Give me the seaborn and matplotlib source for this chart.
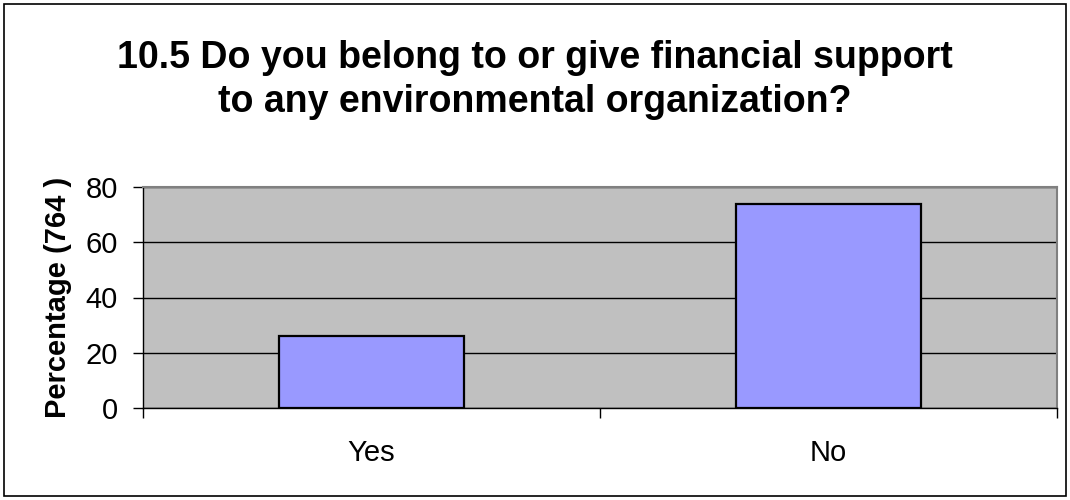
import matplotlib
matplotlib.use("Agg")
import matplotlib.pyplot as plt
import seaborn as sns
import pandas as pd
from matplotlib.patches import Rectangle

categories = ["Yes", "No"]
percentages = [26, 74]
y_ticks = [0, 20, 40, 60, 80]
title_text = "10.5 Do you belong to or give financial support\nto any environmental organization?"
y_label = "Percentage (764 )"

sns.set_theme(style="white")
plt.rcParams["font.family"] = ["Liberation Sans", "DejaVu Sans"]
plt.rcParams["text.color"] = "black"
plt.rcParams["axes.labelcolor"] = "black"
plt.rcParams["xtick.color"] = "black"
plt.rcParams["ytick.color"] = "black"

df = pd.DataFrame({"answer": categories, "pct": percentages})

fig = plt.figure(figsize=(10.7, 5.0), dpi=100)
ax = fig.add_axes([143 / 1070, 92 / 500, 914 / 1070, 221 / 500])

sns.barplot(data=df, x="answer", y="pct", order=categories, color="#9999FF",
            saturation=1, width=0.405, edgecolor="black", linewidth=1.6,
            ax=ax, zorder=3)

ax.set_facecolor("#C0C0C0")
ax.set_ylim(0, 80)
ax.set_xlim(-0.5, 1.5)
ax.set_yticks(y_ticks)
ax.yaxis.grid(True, color="black", linewidth=1.0, zorder=1)
ax.set_axisbelow(True)

for side in ("top", "right"):
    ax.spines[side].set_color("#808080")
    ax.spines[side].set_linewidth(1.5)
for side in ("left", "bottom"):
    ax.spines[side].set_color("black")
    ax.spines[side].set_linewidth(1.0)

ax.tick_params(axis="y", which="major", direction="out", length=7, width=1,
               color="black", labelsize=21, pad=11, left=True)
ax.tick_params(axis="x", which="major", length=0, labelsize=21, pad=22)
ax.set_xticks([-0.5, 0.5, 1.5], minor=True)
ax.tick_params(axis="x", which="minor", direction="out", length=7, width=1,
               color="black", bottom=True)

ax.set_xlabel("")
ax.set_ylabel(y_label, fontsize=21, fontweight="bold", labelpad=10)

fig.text(0.5, 0.84, title_text, ha="center", va="center", fontsize=27,
         fontweight="bold", linespacing=1.3)

fig.patches.append(Rectangle((4 / 1070, 4 / 500), 1062 / 1070, 492 / 500,
                             transform=fig.transFigure, fill=False,
                             edgecolor="black", linewidth=1.2))

fig.savefig("out.png", dpi=100, facecolor="white")
